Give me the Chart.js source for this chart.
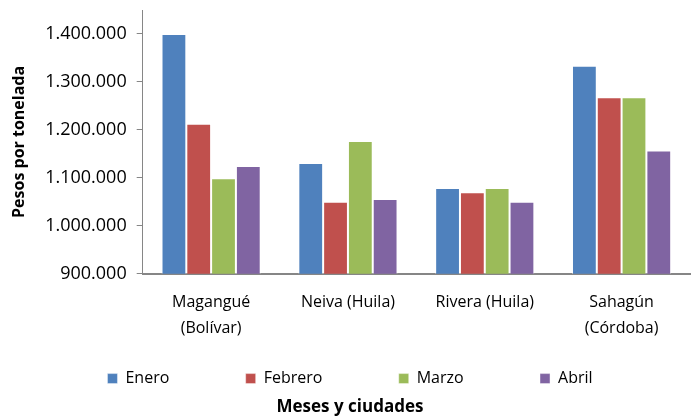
<!DOCTYPE html>
<html>
<head>
<meta charset="utf-8">
<script src="https://cdn.jsdelivr.net/npm/chart.js@4"></script>
<style>
  html, body { margin: 0; padding: 0; background: #fff; }
  #wrap { width: 691px; height: 417px; }
</style>
</head>
<body>
<div id="wrap"><canvas id="chart" width="691" height="417"></canvas></div>
<script>
// ===== DATA =====
const cities = [['Magangué', '(Bolívar)'], 'Neiva (Huila)', 'Rivera (Huila)', ['Sahagún', '(Córdoba)']];
const enero   = [1400000, 1131000, 1079000, 1334000];
const febrero = [1213000, 1050000, 1070000, 1268000];
const marzo   = [1099000, 1177000, 1079000, 1268000];
const abril   = [1125000, 1056000, 1050000, 1157000];
const seriesNames = ['Enero', 'Febrero', 'Marzo', 'Abril'];
const seriesColors = ['#4F81BD', '#C0504D', '#9BBB59', '#8064A2'];
const yTicks = [900000, 1000000, 1100000, 1200000, 1300000, 1400000];
const Y_MAX = 1450000;

const FONT = "'Open Sans', sans-serif";

// 1400000 -> "1.400.000"
function fmt(v) {
    return String(v).replace(/\B(?=(\d{3})+(?!\d))/g, '.');
}

const datasets = [enero, febrero, marzo, abril].map((data, i) => ({
    label: seriesNames[i],
    data,
    backgroundColor: seriesColors[i],
    borderColor: 'rgba(255,255,255,0.55)',
    borderWidth: { top: 1, left: 1, right: 1, bottom: 0 },
    barPercentage: 1,
    categoryPercentage: 0.725
}));

// legend items sit far apart in the original, widen them with trailing spaces
function legendLabels(chart) {
    const items = Chart.defaults.plugins.legend.labels.generateLabels(chart);
    items.forEach((it, i) => {
        if (i < items.length - 1) it.text = it.text + ' '.repeat(15);
    });
    return items;
}

new Chart(document.getElementById('chart'), {
    type: 'bar',
    data: { labels: cities, datasets },
    options: {
        responsive: false,
        animation: false,
        layout: { padding: { top: 10, right: 1, left: 10, bottom: 0 } },
        scales: {
            x: {
                grid: { display: false, drawTicks: false },
                border: { color: '#868686', width: 2 },
                ticks: {
                    color: '#000',
                    padding: 15,
                    maxRotation: 0,
                    font: { family: FONT, size: 16, lineHeight: 1.65 }
                }
            },
            y: {
                min: yTicks[0],
                max: Y_MAX,
                afterBuildTicks: scale => {
                    scale.ticks = yTicks.map(v => ({ value: v }));
                },
                // top tick is below the axis end, no room needed for its label
                afterFit: scale => { scale.paddingTop = 0; },
                grid: { drawOnChartArea: false, tickLength: 6, color: '#868686' },
                border: { color: '#868686', width: 1 },
                ticks: {
                    color: '#000',
                    padding: 10,
                    font: { family: FONT, size: 18 },
                    callback: v => fmt(v)
                },
                title: {
                    display: true,
                    text: 'Pesos por tonelada',
                    color: '#000',
                    padding: { top: 0, bottom: 6 },
                    font: { family: FONT, size: 16, weight: 'bold' }
                }
            }
        },
        plugins: {
            legend: {
                position: 'bottom',
                labels: {
                    color: '#000',
                    boxWidth: 10,
                    boxHeight: 10,
                    padding: 14,
                    font: { family: FONT, size: 16 },
                    generateLabels: legendLabels
                }
            },
            title: {
                display: true,
                position: 'bottom',
                text: 'Meses y ciudades',
                color: '#000',
                padding: { top: 0, bottom: 0 },
                font: { family: FONT, size: 17, weight: 'bold' }
            },
            tooltip: { enabled: false }
        }
    }
});
</script>
</body>
</html>
